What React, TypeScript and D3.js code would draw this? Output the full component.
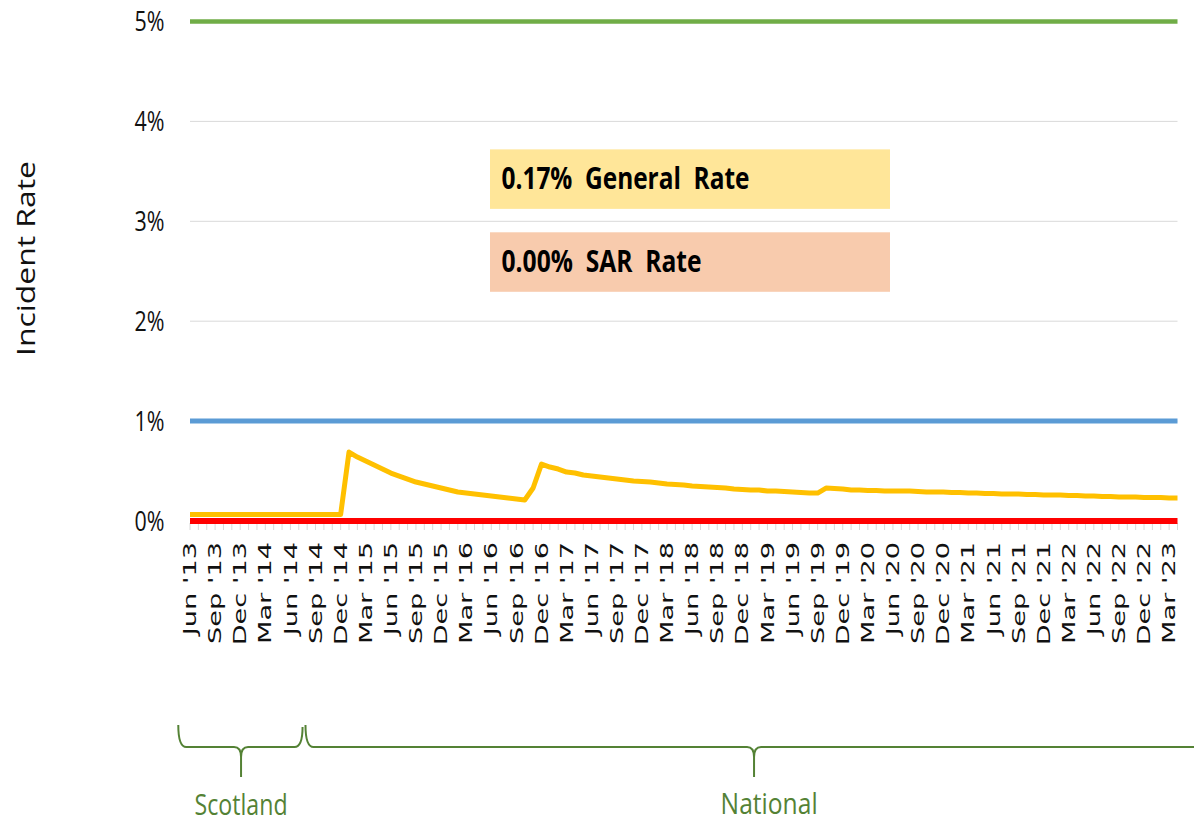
import React from "react";
import * as d3 from "d3";

// monthly categories, Jun '13 .. Apr '23
const months = d3.timeMonth.range(new Date(2013, 5, 1), new Date(2023, 4, 1));
const fmtMonth = d3.timeFormat("%b '%y");

// general incident rate (%)
const generalRate = [
  0.065, 0.065, 0.065, 0.065, 0.065, 0.065, 0.065, 0.065, 0.065, 0.065,
  0.065, 0.065, 0.065, 0.065, 0.065, 0.065, 0.065, 0.065, 0.065, 0.69,
  0.64, 0.6, 0.56, 0.52, 0.48, 0.45, 0.42, 0.39, 0.37, 0.35,
  0.33, 0.31, 0.29, 0.28, 0.27, 0.26, 0.25, 0.24, 0.23, 0.22,
  0.21, 0.33, 0.57, 0.54, 0.52, 0.49, 0.48, 0.46, 0.45, 0.44,
  0.43, 0.42, 0.41, 0.4, 0.395, 0.39, 0.38, 0.37, 0.365, 0.36,
  0.35, 0.345, 0.34, 0.335, 0.33, 0.32, 0.315, 0.31, 0.31, 0.3,
  0.3, 0.295, 0.29, 0.285, 0.28, 0.28, 0.33, 0.325, 0.32, 0.31,
  0.31, 0.305, 0.305, 0.3, 0.3, 0.3, 0.3, 0.295, 0.29, 0.29,
  0.29, 0.285, 0.285, 0.28, 0.28, 0.275, 0.275, 0.27, 0.27, 0.27,
  0.265, 0.265, 0.26, 0.26, 0.26, 0.255, 0.255, 0.25, 0.25, 0.245,
  0.245, 0.24, 0.24, 0.24, 0.235, 0.235, 0.235, 0.23, 0.23,
];

// flat reference series
const sarRate = months.map(() => 0);
const upperLimit = 5;
const warnLimit = 1;

const yTicks = [0, 1, 2, 3, 4, 5];

const boxes = [
  { text: "0.17%  General  Rate", fill: "#FFE699", top: 3.72, width: 248 },
  { text: "0.00%  SAR  Rate", fill: "#F8CBAD", top: 2.89, width: 200 },
];

// brace groups, in month index units
const regions = [
  { label: "Scotland", from: -1.4, to: 13.45, tip: 6.1, labelAt: 6.1, base: 815, len: 93 },
  { label: "National", from: 13.8, to: 122, tip: 67.4, labelAt: 69.2, base: 814, len: 97 },
];

export default function App() {
  const x = d3.scaleLinear().domain([0, months.length - 1]).range([190, 1177.5]);
  const y = d3.scaleLinear().domain([0, 5]).range([521, 21.5]);

  const line = d3
    .line<number>()
    .x((_, i) => x(i))
    .y((d) => y(d));

  const x0 = x(0);
  const x1 = x(months.length - 1);

  const bracePath = (r) => {
    const a = x(r.from);
    const b = x(r.to);
    const t = x(r.tip);
    const top = 725;
    const mid = 747;
    const bot = 777;
    return [
      `M${a},${top}`,
      `Q${a},${mid} ${a + 8},${mid}`,
      `L${t - 7},${mid}`,
      `Q${t},${mid} ${t},${mid + 10}`,
      `L${t},${bot}`,
      `M${t},${mid + 10}`,
      `Q${t},${mid} ${t + 7},${mid}`,
      `L${b - 8},${mid}`,
      `Q${b},${mid} ${b},${top + 2}`,
    ].join(" ");
  };

  return (
    <svg
      width={1194}
      height={823}
      style={{ position: "absolute", left: 0, top: 0, display: "block", background: "#fff" }}
    >
      {/* gridlines */}
      {yTicks
        .filter((t) => t > 0 && t < 5)
        .map((t) => (
          <line key={t} x1={x0} x2={x1} y1={y(t)} y2={y(t)} stroke="#d9d9d9" strokeWidth={1} />
        ))}

      {/* y tick labels */}
      {yTicks.map((t) => (
        <text
          key={t}
          x={164.5}
          y={y(t)}
          dy="0.36em"
          textAnchor="end"
          fontFamily="'Open Sans', sans-serif"
          fontSize={27}
          textLength={30}
          lengthAdjust="spacingAndGlyphs"
          fill="#111"
        >
          {t + "%"}
        </text>
      ))}

      <text
        transform={`translate(34.5,258.5) rotate(-90)`}
        textAnchor="middle"
        fontFamily="'Open Sans', sans-serif"
        fontWeight={400}
        fontSize={26}
        textLength={195}
        lengthAdjust="spacingAndGlyphs"
        fill="#111"
      >
        Incident  Rate
      </text>

      {/* month ticks */}
      {months.map((m, i) => (
        <line key={i} x1={x(i)} x2={x(i)} y1={523} y2={530} stroke="#d9d9d9" strokeWidth={1} />
      ))}

      {/* month labels */}
      {months.map((m, i) =>
        i % 3 === 0 ? (
          <text
            key={i}
            transform={`translate(${x(i)},542) rotate(-90) scale(1.6,1)`}
            dy="0.36em"
            textAnchor="end"
            fontFamily="'DejaVu Sans', sans-serif"
            fontSize={17}
            fill="#111"
          >
            {fmtMonth(m)}
          </text>
        ) : null
      )}

      {/* limits */}
      <line x1={x0} x2={x1} y1={y(upperLimit)} y2={y(upperLimit)} stroke="#70AD47" strokeWidth={4.5} />
      <line x1={x0} x2={x1} y1={y(warnLimit)} y2={y(warnLimit)} stroke="#5B9BD5" strokeWidth={5} />

      <path d={line(generalRate) || ""} fill="none" stroke="#FFC000" strokeWidth={5} strokeLinejoin="round" />
      <path d={line(sarRate) || ""} fill="none" stroke="#FF0000" strokeWidth={6} />

      {/* rate boxes */}
      {boxes.map((b) => (
        <g key={b.text}>
          <rect x={490} y={y(b.top)} width={400} height={59.5} fill={b.fill} />
          <text
            x={501.5}
            y={y(b.top) + 40}
            fontFamily="'Open Sans', sans-serif"
            fontWeight={700}
            fontSize={31}
            textLength={b.width}
            lengthAdjust="spacingAndGlyphs"
            fill="#000"
            style={{ whiteSpace: "pre" }}
          >
            {b.text}
          </text>
        </g>
      ))}

      {/* region braces */}
      {regions.map((r) => (
        <g key={r.label}>
          <path d={bracePath(r)} fill="none" stroke="#548235" strokeWidth={2} />
          <text
            x={x(r.labelAt)}
            y={r.base}
            textAnchor="middle"
            fontFamily="'Open Sans', sans-serif"
            fontSize={29}
            textLength={r.len}
            lengthAdjust="spacingAndGlyphs"
            fill="#548235"
          >
            {r.label}
          </text>
        </g>
      ))}
    </svg>
  );
}
